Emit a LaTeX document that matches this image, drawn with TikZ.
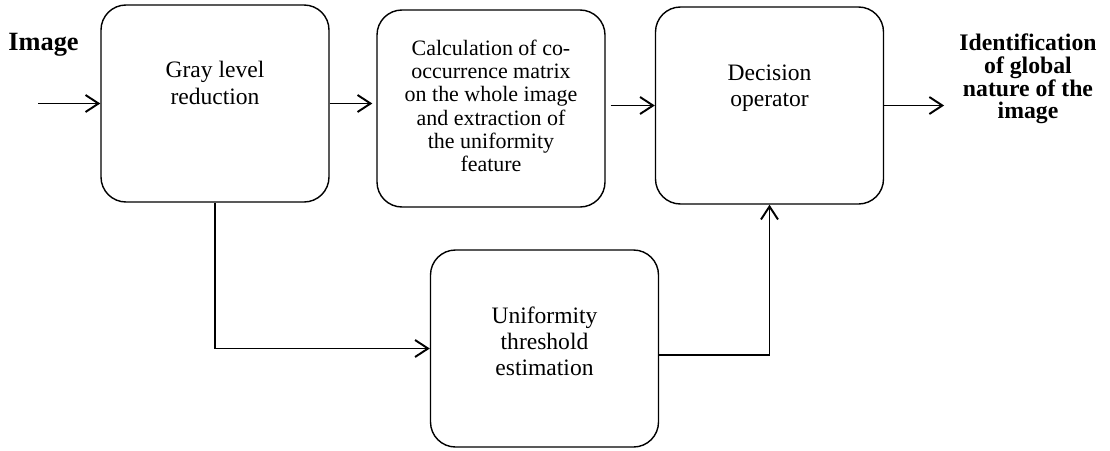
\documentclass[tikz,border=0pt]{standalone}
\usepackage{fontspec}
\setmainfont{Liberation Serif}
\usetikzlibrary{positioning}
\usetikzlibrary{arrows.meta}
\tikzstyle{process}=[draw, rounded corners=0.5cm, minimum width=4.56cm, minimum height=3.94cm, line width=0.8pt]
\tikzstyle{process text}=[align=center, inner sep=0, font=\fontsize{13.4}{14.8}\selectfont]
\tikzstyle{heading}=[align=center, inner sep=0, font=\bfseries\fontsize{13.5}{12.9}\selectfont]
\tikzstyle{flow}=[line width=1.1pt, -{Straight Barb[length=0.26cm, width=0.34cm]}]

\begin{document}
\begin{tikzpicture}
          \useasboundingbox (0, 0) rectangle (22.2, -9);
          \node[process] (gray) at (4.30, -2.07) {};
          \node[process] (cooc) at (9.82, -2.17) {};
          \node[process] (decision) at (15.39, -2.11) {};
          \node[process] (threshold) at (10.89, -6.97) {};

          \node[process text, below=1.14cm of gray.north] (gray_text) {Gray level\\reduction};
          \node[process text, font=\fontsize{12.5}{13.3}\selectfont, below=0.6cm of cooc.north] (cooc_text)
            {Calculation of co-\\occurrence matrix\\on the whole image\\and extraction of\\the uniformity\\feature};
          \node[process text, below=1.16cm of decision.north] (decision_text) {Decision\\operator};
          \node[process text, below=1.14cm of threshold.north] (threshold_text) {Uniformity\\threshold\\estimation};

          \node[heading, font=\bfseries\fontsize{15}{18}\selectfont] (image_label) at (0.87, -0.9) {Image};
          \node[heading] (result) at (20.56, -1.58) {Identification\\of global\\nature of the\\image};
          \coordinate (in) at (0.76, -2.07);

          \draw[flow] (in) -- (gray);
          \draw[flow, shorten >=0.08cm] (gray) -- (gray -| cooc.west);
          \draw[flow, shorten <=0.1cm] (cooc.east |- decision.west) -- (decision.west);
          \draw[flow, shorten >=0.3cm] (decision.east) -- (decision.east -| result.west);
          \draw[flow] (gray.south) |- (threshold.west);
          \draw[flow] ([yshift=-0.13cm]threshold.east) -| (decision.south);
        \end{tikzpicture}
\end{document}
